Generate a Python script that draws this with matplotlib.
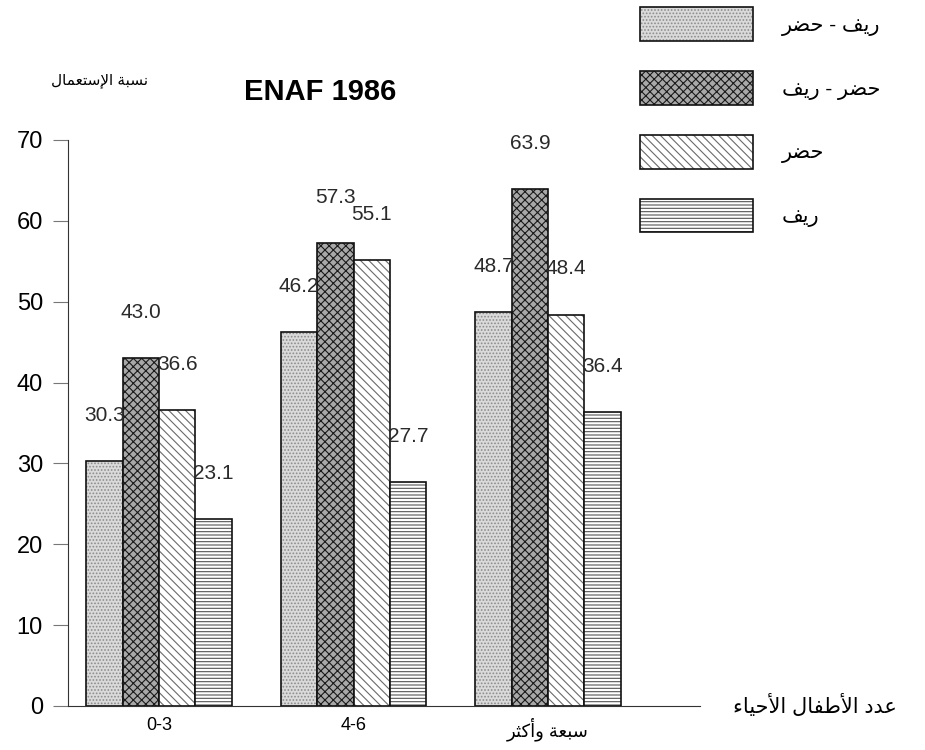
import matplotlib
matplotlib.use('Agg')
import matplotlib.pyplot as plt
from matplotlib.patches import Patch
from matplotlib.legend_handler import HandlerTuple

plt.rcParams['font.family'] = ['Liberation Sans', 'DejaVu Sans']
plt.rcParams['hatch.linewidth'] = 0.8

# donnees
groupes = ['0-3', '4-6', 'سبعة وأكثر']
series = ['ريف - حضر', 'حضر - ريف', 'حضر', 'ريف']
rif_hadar = [30.3, 46.2, 48.7]
hadar_rif = [43.0, 57.3, 63.9]
hadar = [36.6, 55.1, 48.4]
rif = [23.1, 27.7, 36.4]
valeurs = [rif_hadar, hadar_rif, hadar, rif]

# formes de presentation arabes (isolee, finale, initiale, mediane)
FORMES = {
    'ا': (0xFE8D, 0xFE8E, None, None), 'أ': (0xFE83, 0xFE84, None, None),
    'إ': (0xFE87, 0xFE88, None, None), 'ب': (0xFE8F, 0xFE90, 0xFE91, 0xFE92),
    'ة': (0xFE93, 0xFE94, None, None), 'ت': (0xFE95, 0xFE96, 0xFE97, 0xFE98),
    'ث': (0xFE99, 0xFE9A, 0xFE9B, 0xFE9C), 'ح': (0xFEA1, 0xFEA2, 0xFEA3, 0xFEA4),
    'د': (0xFEA9, 0xFEAA, None, None), 'ر': (0xFEAD, 0xFEAE, None, None),
    'س': (0xFEB1, 0xFEB2, 0xFEB3, 0xFEB4), 'ض': (0xFEBD, 0xFEBE, 0xFEBF, 0xFEC0),
    'ط': (0xFEC1, 0xFEC2, 0xFEC3, 0xFEC4), 'ع': (0xFEC9, 0xFECA, 0xFECB, 0xFECC),
    'ف': (0xFED1, 0xFED2, 0xFED3, 0xFED4), 'ك': (0xFED9, 0xFEDA, 0xFEDB, 0xFEDC),
    'ل': (0xFEDD, 0xFEDE, 0xFEDF, 0xFEE0), 'م': (0xFEE1, 0xFEE2, 0xFEE3, 0xFEE4),
    'ن': (0xFEE5, 0xFEE6, 0xFEE7, 0xFEE8), 'و': (0xFEED, 0xFEEE, None, None),
    'ي': (0xFEF1, 0xFEF2, 0xFEF3, 0xFEF4), 'ء': (0xFE80, None, None, None),
}
LAM_ALEF = {'ا': (0xFEFB, 0xFEFC), 'أ': (0xFEF7, 0xFEF8), 'إ': (0xFEF9, 0xFEFA)}


def arabe(texte):
    # jonction des lettres puis ordre visuel (droite a gauche)
    if not any(c in FORMES for c in texte):
        return texte
    lettres = list(texte)
    sortie = []
    i = 0
    while i < len(lettres):
        c = lettres[i]
        if c not in FORMES:
            sortie.append(c)
            i += 1
            continue
        prev = lettres[i - 1] if i > 0 else ''
        lie_avant = prev in FORMES and FORMES[prev][2] is not None
        if c == 'ل' and i + 1 < len(lettres) and lettres[i + 1] in LAM_ALEF:
            iso, fin = LAM_ALEF[lettres[i + 1]]
            sortie.append(chr(fin if lie_avant else iso))
            i += 2
            continue
        suiv = lettres[i + 1] if i + 1 < len(lettres) else ''
        lie_apres = suiv in FORMES and suiv != 'ء' and FORMES[c][2] is not None
        iso, fin, ini, med = FORMES[c]
        if lie_avant and lie_apres:
            f = med
        elif lie_avant and fin:
            f = fin
        elif lie_apres:
            f = ini
        else:
            f = iso
        sortie.append(chr(f))
        i += 1
    return ''.join(reversed(sortie))


styles = [
    dict(color='#dadada', hatch='.....', hc='#8c8c8c'),
    dict(color='#a8a8a8', hatch='xxxx', hc='#1a1a1a'),
    dict(color='white', hatch='\\\\\\\\', hc='#6a6a6a'),
    dict(color='white', hatch='-----', hc='#555555'),
]

fig = plt.figure(figsize=(9.25, 7.5), dpi=100)
ax = fig.add_axes([0.0735, 0.0587, 0.683, 0.7547])

largeur = 0.187
x = [0, 1, 2]
handles = []
for k, (vals, st) in enumerate(zip(valeurs, styles)):
    pos = [xi + (k - 1.5) * largeur for xi in x]
    ax.bar(pos, vals, largeur, color=st['color'], hatch=st['hatch'],
           edgecolor=st['hc'], linewidth=0)
    cont = ax.bar(pos, vals, largeur, fill=False, edgecolor='#111111', linewidth=1.2)
    ax.bar_label(cont, labels=[f'{v:.1f}' for v in vals], padding=26,
                 fontsize=15, color='#2a2a2a')
    handles.append((Patch(facecolor=st['color'], hatch=st['hatch'], edgecolor=st['hc'], linewidth=0),
                    Patch(fill=False, edgecolor='#111111', linewidth=1.2)))

ax.set_ylim(0, 70)
ax.set_xlim(-0.468, 2.78)
ax.set_yticks(range(0, 71, 10))
ax.set_xticks(x)
ax.set_xticklabels([arabe(g) for g in groupes], fontsize=13)
ax.tick_params(axis='x', length=0, pad=8)
ax.tick_params(axis='y', length=11, width=0.8, color='#777777', labelsize=17, pad=7)
ax.spines['top'].set_visible(False)
ax.spines['right'].set_visible(False)
ax.spines['left'].set_color('#333333')
ax.spines['bottom'].set_color('#333333')

fig.text(0.346, 0.877, 'ENAF 1986', fontsize=21, fontweight='bold', ha='center', va='center')
fig.text(0.108, 0.893, arabe('نسبة الإستعمال'), fontsize=11, ha='center', va='center')
fig.text(0.881, 0.059, arabe('عدد الأطفال الأحياء'), fontsize=15, ha='center', va='center')

fig.legend(handles, [arabe(s) for s in series], handler_map={tuple: HandlerTuple(ndivide=1)},
           loc='upper left', bbox_to_anchor=(0.692, 0.99), frameon=False, fontsize=15,
           handlelength=5.4, handleheight=2.1, labelspacing=1.45, handletextpad=1.4,
           borderpad=0, borderaxespad=0)

plt.savefig('out.png', dpi=100)
